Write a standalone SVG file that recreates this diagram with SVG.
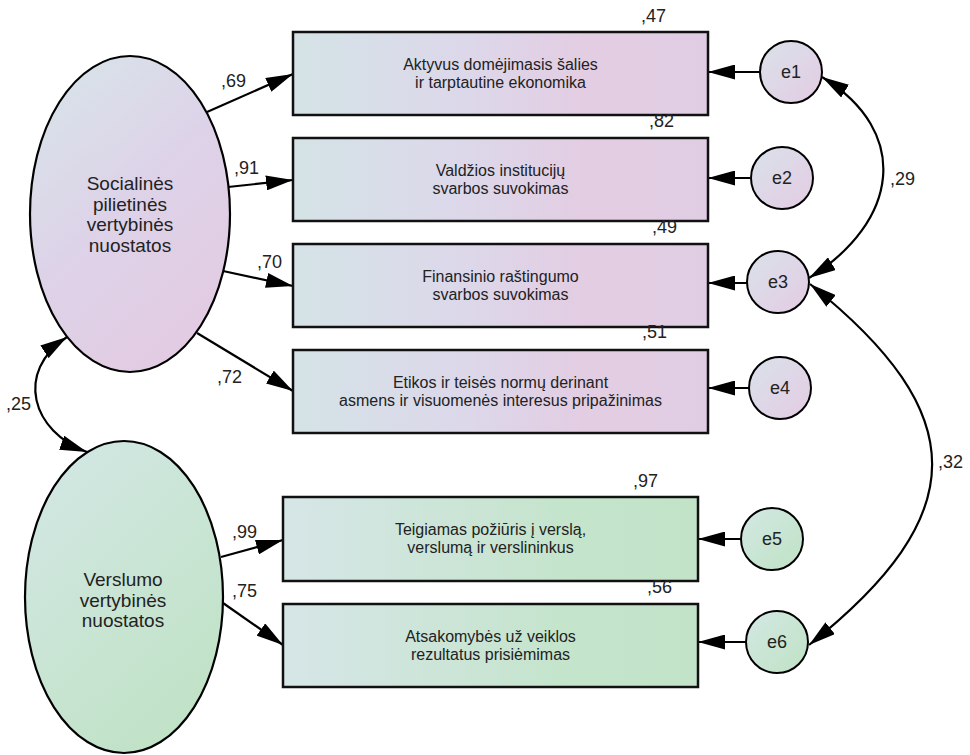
<svg xmlns="http://www.w3.org/2000/svg" width="970" height="755" viewBox="0 0 970 755">
<defs>
<linearGradient id="gRectP" x1="0" y1="0" x2="1" y2="0">
<stop offset="0" stop-color="#d4e3e6"/><stop offset="0.4" stop-color="#dcd8ea"/><stop offset="0.7" stop-color="#e3cde3"/><stop offset="1" stop-color="#e1cde3"/>
</linearGradient>
<linearGradient id="gRectG" x1="0" y1="0" x2="1" y2="0">
<stop offset="0" stop-color="#d6e6e7"/><stop offset="0.7" stop-color="#c4e4cb"/><stop offset="1" stop-color="#c3e3c9"/>
</linearGradient>
<linearGradient id="gEllP" x1="0.2" y1="0" x2="0.8" y2="1">
<stop offset="0" stop-color="#d8e3ea"/><stop offset="0.45" stop-color="#ddd3e8"/><stop offset="1" stop-color="#e3cae2"/>
</linearGradient>
<linearGradient id="gEllG" x1="0.2" y1="0" x2="0.8" y2="1">
<stop offset="0" stop-color="#d2e7e3"/><stop offset="1" stop-color="#bfe2c4"/>
</linearGradient>
<linearGradient id="gCirP" x1="0" y1="0" x2="1" y2="1">
<stop offset="0" stop-color="#d9e2ea"/><stop offset="1" stop-color="#e4cbe3"/>
</linearGradient>
<linearGradient id="gCirG" x1="0" y1="0" x2="1" y2="1">
<stop offset="0" stop-color="#d3e8e4"/><stop offset="1" stop-color="#bfe2c4"/>
</linearGradient>
<marker id="ah" viewBox="0 0 27 15" refX="27" refY="7.5" markerWidth="27" markerHeight="15" markerUnits="userSpaceOnUse" orient="auto-start-reverse">
<path d="M0,0 L27,7.5 L0,15 z" fill="#000"/>
</marker>
</defs>
<style>
text{font-family:"Liberation Sans",Arial,sans-serif;fill:#222}
.box{stroke:#111;stroke-width:2.5}
.lat{stroke:#000;stroke-width:2.2}
.err{stroke:#000;stroke-width:2}
.bt{font-size:16px;text-anchor:middle}
.lt{font-size:19px;text-anchor:middle}
.et{font-size:18px;text-anchor:middle}
.num{font-size:18px}
.con{fill:none;stroke:#000;stroke-width:2.2;marker-end:url(#ah)}
.cov{fill:none;stroke:#000;stroke-width:2.2;marker-start:url(#ah);marker-end:url(#ah)}
</style>

<g id="connectors">
<path class="con" d="M207,112 L293,74"/>
<path class="con" d="M228,187 L293,180"/>
<path class="con" d="M223,271 L293,286"/>
<path class="con" d="M197,333 L293,391"/>
<path class="con" d="M221,557 L283,540"/>
<path class="con" d="M223,603 L283,645"/>
<path class="con" d="M760,72 L708,72"/>
<path class="con" d="M750,178 L708,178"/>
<path class="con" d="M747,283 L708,283"/>
<path class="con" d="M749,388 L708,388"/>
<path class="con" d="M741,539 L698,539"/>
<path class="con" d="M746,642 L698,642"/>
<path class="cov" d="M67,337 C14,372 32,432 87,452"/>
<path class="cov" d="M822,77 C912,132 899,222 809,278"/>
<path class="cov" d="M810,284 C973,414 973,515 809,645"/>
<text class="num" x="6" y="410">,25</text>
<text class="num" x="890" y="185">,29</text>
<text class="num" x="938" y="468">,32</text>
<text class="num" x="221" y="87">,69</text>
<text class="num" x="234" y="174">,91</text>
<text class="num" x="257" y="268">,70</text>
<text class="num" x="217" y="383">,72</text>
<text class="num" x="232" y="538">,99</text>
<text class="num" x="232" y="597">,75</text>
</g>

<g id="F1">
<ellipse class="lat" cx="130" cy="214" rx="100" ry="158" fill="url(#gEllP)"/>
<text class="lt" x="130" y="190">Socialinės</text>
<text class="lt" x="130" y="211">pilietinės</text>
<text class="lt" x="130" y="231">vertybinės</text>
<text class="lt" x="130" y="252">nuostatos</text>
</g>
<g id="F2">
<ellipse class="lat" cx="124" cy="597" rx="99" ry="156" fill="url(#gEllG)"/>
<text class="lt" x="123" y="586">Verslumo</text>
<text class="lt" x="123" y="607">vertybinės</text>
<text class="lt" x="123" y="627">nuostatos</text>
</g>

<g id="V1">
<rect class="box" x="293" y="32" width="415" height="83" fill="url(#gRectP)"/>
<text class="bt" x="500.5" y="70">Aktyvus domėjimasis šalies</text>
<text class="bt" x="500.5" y="88">ir tarptautine ekonomika</text>
<text class="num" x="641" y="22">,47</text>
</g>
<g id="V2">
<rect class="box" x="293" y="138" width="415" height="83" fill="url(#gRectP)"/>
<text class="bt" x="500.5" y="176">Valdžios institucijų</text>
<text class="bt" x="500.5" y="194">svarbos suvokimas</text>
<text class="num" x="649" y="127">,82</text>
</g>
<g id="V3">
<rect class="box" x="293" y="244" width="415" height="83" fill="url(#gRectP)"/>
<text class="bt" x="500.5" y="282">Finansinio raštingumo</text>
<text class="bt" x="500.5" y="300">svarbos suvokimas</text>
<text class="num" x="652" y="233">,49</text>
</g>
<g id="V4">
<rect class="box" x="293" y="350" width="415" height="83" fill="url(#gRectP)"/>
<text class="bt" x="500.5" y="388">Etikos ir teisės normų derinant</text>
<text class="bt" x="500.5" y="406">asmens ir visuomenės interesus pripažinimas</text>
<text class="num" x="642" y="338">,51</text>
</g>
<g id="V5">
<rect class="box" x="283" y="497" width="415" height="84" fill="url(#gRectG)"/>
<text class="bt" x="490.5" y="535">Teigiamas požiūris į verslą,</text>
<text class="bt" x="490.5" y="553">verslumą ir verslininkus</text>
<text class="num" x="633" y="487">,97</text>
</g>
<g id="V6">
<rect class="box" x="283" y="604" width="415" height="83" fill="url(#gRectG)"/>
<text class="bt" x="490.5" y="642">Atsakomybės už veiklos</text>
<text class="bt" x="490.5" y="660">rezultatus prisiėmimas</text>
<text class="num" x="647" y="593">,56</text>
</g>

<g id="e1"><circle class="err" cx="791" cy="72" r="31" fill="url(#gCirP)"/><text class="et" x="791" y="78">e1</text></g>
<g id="e2"><circle class="err" cx="782" cy="178" r="31" fill="url(#gCirP)"/><text class="et" x="782" y="184">e2</text></g>
<g id="e3"><circle class="err" cx="778" cy="282" r="31" fill="url(#gCirP)"/><text class="et" x="778" y="288">e3</text></g>
<g id="e4"><circle class="err" cx="780" cy="388" r="31" fill="url(#gCirP)"/><text class="et" x="780" y="394">e4</text></g>
<g id="e5"><circle class="err" cx="772" cy="539" r="31" fill="url(#gCirG)"/><text class="et" x="772" y="545">e5</text></g>
<g id="e6"><circle class="err" cx="777" cy="642" r="31" fill="url(#gCirG)"/><text class="et" x="777" y="648">e6</text></g>
</svg>
